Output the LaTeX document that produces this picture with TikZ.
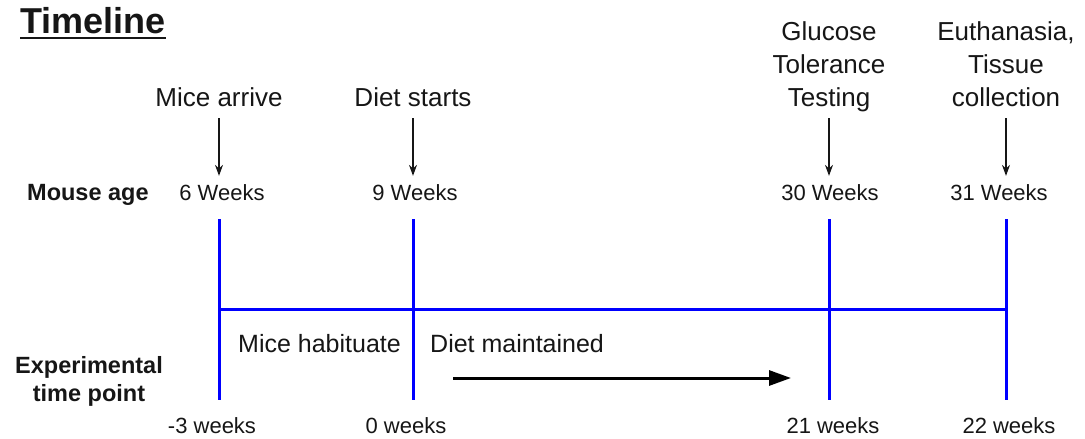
\documentclass[tikz,border=0pt]{standalone}
\usepackage{fontspec}
\setmainfont{Liberation Sans}
\usetikzlibrary{arrows.meta}
\definecolor{tlblue}{RGB}{0,0,255}
\definecolor{ink}{RGB}{22,22,22}
\begin{document}
\begin{tikzpicture}[x=1pt,y=-1pt,
  every node/.style={inner sep=0pt, text=ink},
  event/.style={font=\fontsize{26}{33}\selectfont, align=center, anchor=south, text depth=0pt},
  age/.style={font=\fontsize{22}{26}\selectfont, anchor=base},
  rowlabel/.style={font=\bfseries\fontsize{23.5}{28}\selectfont, align=center},
  phase/.style={font=\fontsize{25}{30}\selectfont, anchor=base west},
  callout/.style={draw=ink, line width=1.3pt, -{Stealth[length=11pt,width=8pt]}, shorten <=11pt, shorten >=8pt},
  tick/.style={draw=tlblue, line width=3pt},
  span/.style={draw=black, line width=3pt, -{Triangle[length=22pt,width=15pt]}}
]
\useasboundingbox (0,0) rectangle (1085,439);

% title
\node[font=\bfseries\fontsize{36}{40}\selectfont, anchor=base west] (title) at (20,33) {Timeline};
\draw[ink, line width=2.6pt] ([yshift=-5pt]title.base west) -- ([yshift=-5pt]title.base east);

% row labels
\node[rowlabel, anchor=base west] (mouseage) at (27,200) {Mouse age};
\node[rowlabel, anchor=north] (exptp) at (89,356) {Experimental\\time point};

% events
\node[event] (ev1) at (219,107) {Mice arrive};
\node[event] (ev2) at (413,107) {Diet starts};
\node[event] (ev3) at (829,107) {Glucose\\Tolerance\\Testing};
\node[event] (ev4) at (1006,107) {Euthanasia,\\Tissue\\collection};

% ages
\node[age] (age1) at (222,200) {6 Weeks};
\node[age] (age2) at (415,200) {9 Weeks};
\node[age] (age3) at (830,200) {30 Weeks};
\node[age] (age4) at (999,200) {31 Weeks};

\foreach \i in {1,...,4}{
  \draw[callout] (ev\i.south) -- (ev\i.south |- age\i.north);
}

% timeline
\coordinate (t1) at (219,219); \coordinate (b1) at (219,400);
\coordinate (t2) at (413,219); \coordinate (b2) at (413,400);
\coordinate (t3) at (829,219); \coordinate (b3) at (829,400);
\coordinate (t4) at (1006,219); \coordinate (b4) at (1006,400);
\foreach \i in {1,...,4}{
  \draw[tick] (t\i) -- (b\i);
}
\coordinate (hl) at (219,309);
\coordinate (hr) at (1008,309);
\draw[tick] (hl) -- (hr);

% phases
\node[phase] (hab) at (238,352) {Mice habituate};
\node[phase] (maint) at (430,352) {Diet maintained};
\coordinate (ms) at (453,378);
\coordinate (me) at (791,378);
\draw[span] (ms) -- (me);

% weeks
\node[age] (w1) at (212,433) {-3 weeks};
\node[age] (w2) at (406,433) {0 weeks};
\node[age] (w3) at (833,433) {21 weeks};
\node[age] (w4) at (1009,433) {22 weeks};
\end{tikzpicture}
\end{document}
